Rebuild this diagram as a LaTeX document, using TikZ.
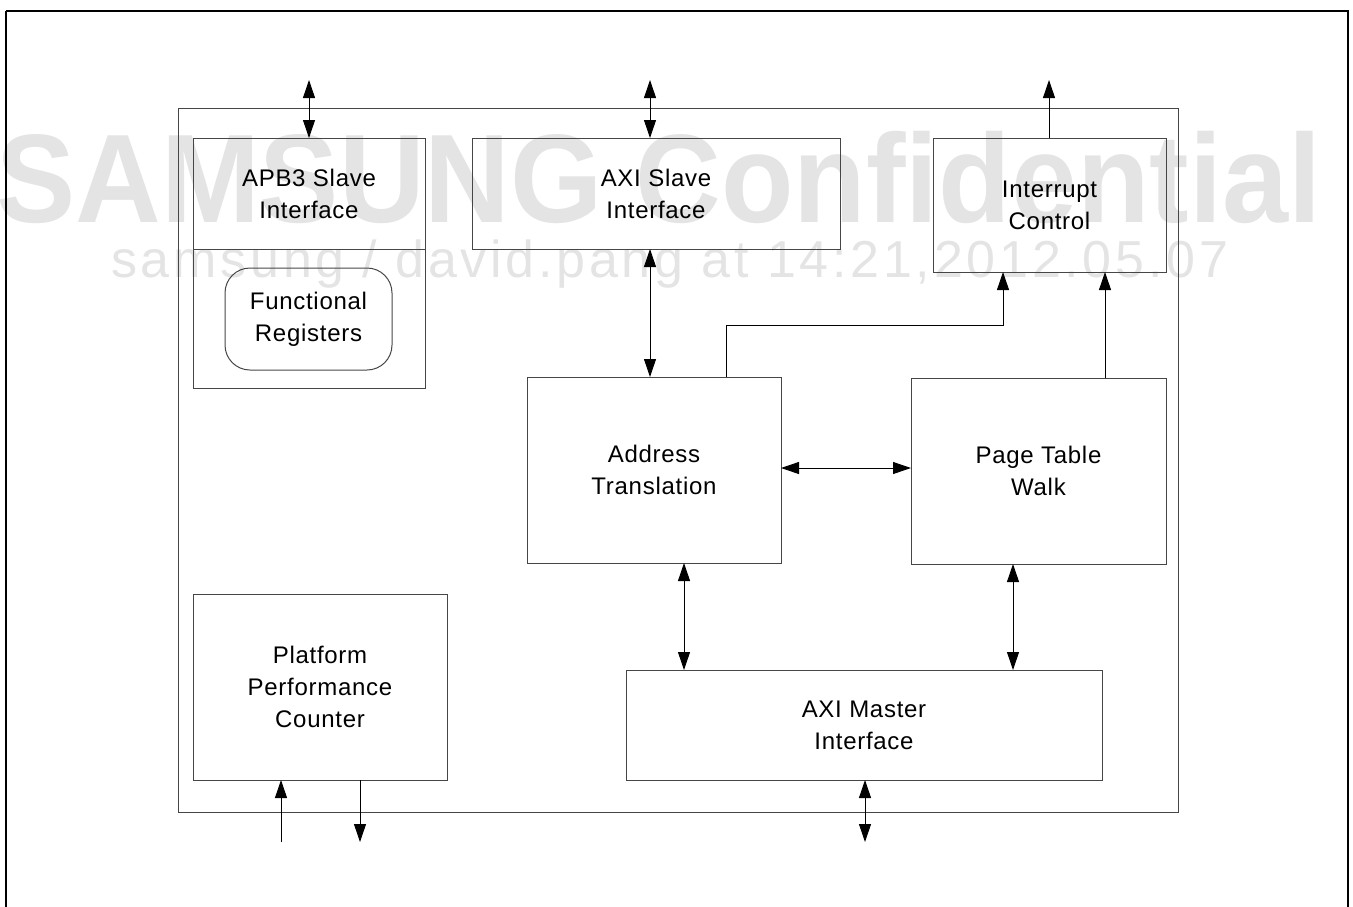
\documentclass[tikz,border=0pt]{standalone}
\usepackage{fontspec}
\setmainfont{Liberation Sans}
\newfontfamily\lblfont[LetterSpace=3]{Liberation Sans}
\newfontfamily\wmbig{Liberation Sans Bold}
\newfontfamily\wmsmall[LetterSpace=7.2]{Liberation Sans}
\usetikzlibrary{arrows.meta}
\definecolor{wm}{RGB}{228,228,228}
\definecolor{boxline}{RGB}{70,70,70}
\tikzset{
  blk/.style={draw=boxline, line width=1pt, inner sep=0pt, outer sep=0pt,
    align=center, font={\lblfont\fontsize{24}{32}\selectfont}},
  lbl/.style={inner sep=0pt, outer sep=0pt, align=center,
    font={\lblfont\fontsize{24}{32}\selectfont}},
  tip/.tip={Triangle[length=18pt,width=12pt]},
  conn/.style={line width=0.9pt, draw=black},
}
\begin{document}
\begin{tikzpicture}[x=1pt,y=-1pt]
\useasboundingbox (0,0) rectangle (1353,906);
% watermark
\node[anchor=base west, inner sep=0pt, text=wm, xscale=0.942,
  font={\wmbig\fontsize{126}{126}\selectfont}] (wm1) at (-4,222) {SAMSUNG Confidential};
\node[anchor=base west, inner sep=0pt, text=wm,
  font={\wmsmall\fontsize{52}{52}\selectfont}] (wm2) at (111,277) {samsung / david.pang at 14:21,2012.05.07};
% frames
\draw[line width=2.5pt] (6,11) -- (1348,11) -- (1348,915) (6,915) -- (6,11);
\node[blk, minimum width=1000, minimum height=704] (inner) at (678,460) {};
% blocks
\node[blk, minimum width=232, minimum height=250] (apbbox) at (309,263) {};
\draw[draw=boxline, line width=1pt] (apbbox.west |- 0,249) coordinate (divl) -- (apbbox.east |- 0,249) coordinate (divr);
\node[lbl] (apbtxt) at (309,194) {APB3 Slave\\Interface};
\node[blk, rounded corners=25pt, minimum width=167, minimum height=102] (freg) at (308.5,319) {Functional\\Registers};
\node[blk, minimum width=368, minimum height=111] (axis) at (656,193.5) {AXI Slave\\Interface};
\node[blk, minimum width=233, minimum height=134] (ic) at (1049.5,205) {Interrupt\\Control};
\node[blk, minimum width=254, minimum height=186] (at) at (654,470) {Address\\Translation};
\node[blk, minimum width=255, minimum height=186] (ptw) at (1038.5,471) {Page Table\\Walk};
\node[blk, minimum width=254, minimum height=186] (ppc) at (320,687) {Platform\\Performance\\Counter};
\node[blk, minimum width=476, minimum height=110] (axim) at (864,725) {AXI Master\\Interface};
% external coordinates
\coordinate (apbext) at (309,80);
\coordinate (axisext) at (650,80);
\coordinate (icext) at (1049,80);
\coordinate (aximext) at (865,842);
\coordinate (ppcin) at (281,842);
\coordinate (ppcout) at (360,842);
\coordinate (atup) at (726,0);
\coordinate (icin1) at (1003,0);
\coordinate (icin2) at (1105,0);
\coordinate (atdn) at (684,0);
\coordinate (ptwdn) at (1013,0);
\coordinate (mid) at (0,468);
\coordinate (bend) at (0,325);
% connectors
\draw[conn, tip-tip] (apbext) -- (apbext |- apbbox.north);
\draw[conn, tip-tip] (axisext) -- (axisext |- axis.north);
\draw[conn, -tip] (icext |- ic.north) -- (icext);
\draw[conn, tip-tip] (axisext |- axis.south) -- (axisext |- at.north);
\draw[conn, -tip] (atup |- at.north) -- (atup |- bend) -- (icin1 |- bend) -- (icin1 |- ic.south);
\draw[conn, -tip] (icin2 |- ptw.north) -- (icin2 |- ic.south);
\draw[conn, tip-tip] (at.east |- mid) -- (ptw.west |- mid);
\draw[conn, tip-tip] (atdn |- at.south) -- (atdn |- axim.north);
\draw[conn, tip-tip] (ptwdn |- ptw.south) -- (ptwdn |- axim.north);
\draw[conn, tip-tip] (aximext |- axim.south) -- (aximext);
\draw[conn, -tip] (ppcin) -- (ppcin |- ppc.south);
\draw[conn, -tip] (ppcout |- ppc.south) -- (ppcout);
\end{tikzpicture}
\end{document}
